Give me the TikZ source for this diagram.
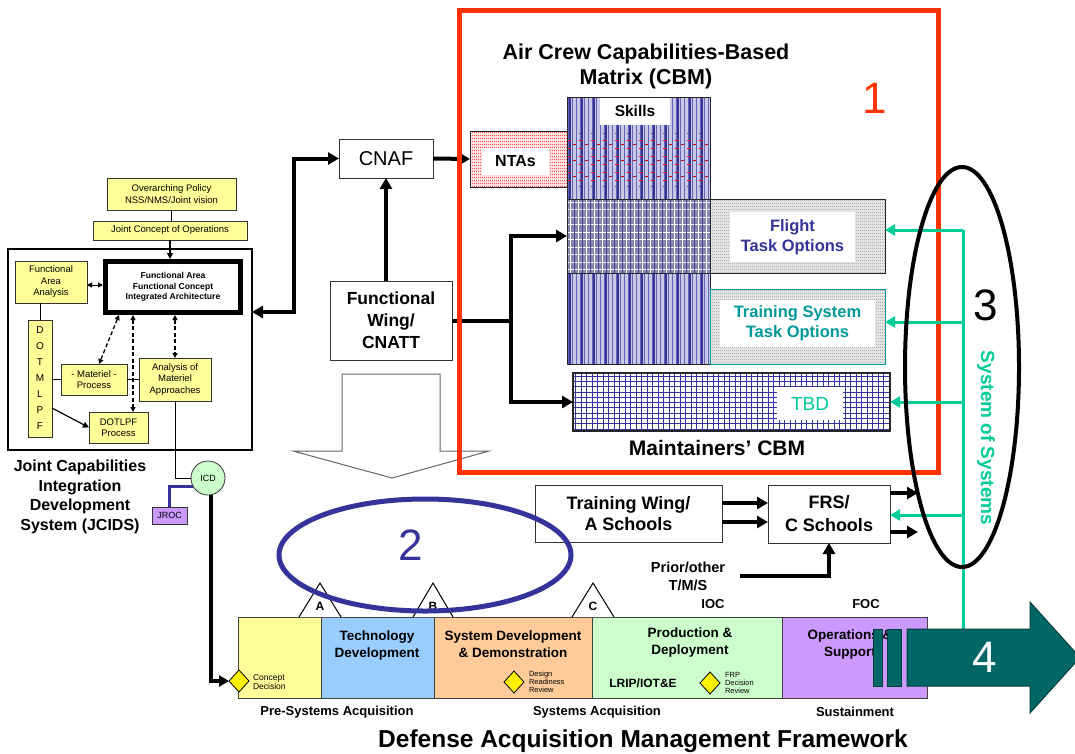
\documentclass[tikz,border=0pt]{standalone}
\usepackage{fontspec}
\setmainfont{Liberation Sans}
\usetikzlibrary{arrows.meta,shapes.geometric,calc}
\definecolor{ybox}{HTML}{FFFF99}
\definecolor{dnavy}{HTML}{333399}
\definecolor{redo}{HTML}{FF3300}
\definecolor{aqua}{HTML}{00CC99}
\definecolor{tealtxt}{HTML}{009999}
\definecolor{icdg}{HTML}{CCFFCC}
\definecolor{purp}{HTML}{CC99FF}
\definecolor{pblue}{HTML}{99CCFF}
\definecolor{porange}{HTML}{FFCC99}
\definecolor{darkteal}{HTML}{006666}
\definecolor{lav}{HTML}{C8C8E8}
\definecolor{weave}{HTML}{8686AE}
\newcommand{\fsz}[2]{\fontsize{#1}{#2}\selectfont}
\begin{document}
\begin{tikzpicture}[x=1pt,y=-1pt,
  every node/.style={inner sep=0pt,outer sep=0pt},
  ybx/.style={draw=black!80,line width=0.8pt,fill=ybox,align=center,font=\fsz{9.5}{11.5}},
  wbx/.style={draw=black!80,line width=0.9pt,fill=white,align=center},
  conn/.style={line width=4pt,-{Triangle[length=11pt,width=12pt]}},
  dconn/.style={line width=4pt,{Triangle[length=11pt,width=12pt]}-{Triangle[length=11pt,width=12pt]}},
  sconn/.style={line width=1.2pt,-{Triangle[length=6pt,width=6pt]}},
  dsh/.style={line width=1.3pt,dash pattern=on 4pt off 2.5pt,{Triangle[length=5pt,width=5pt]}-{Triangle[length=5pt,width=5pt]}},
  aconn/.style={aqua,line width=3pt,-{Triangle[length=10pt,width=11pt]}},
  phase/.style={draw=black!75,line width=1pt},
  ptxt/.style={font=\bfseries\fsz{13.5}{17},align=center},
  dmd/.style={diamond,draw=black,line width=0.8pt,fill=yellow,minimum width=20pt,minimum height=22pt},
  smalltxt/.style={font=\fsz{7.5}{8},align=left,anchor=west},
  big/.style={font=\fsz{44}{44}}
]
\useasboundingbox (0,0) rectangle (1075,753);

% ================= JCIDS =================
\node[ybx,minimum width=129,minimum height=32] (op) at (171.5,194) {Overarching Policy\\NSS/NMS/Joint vision};
\node[ybx,minimum width=154,minimum height=19] (jco) at (170,230.5) {Joint Concept of Operations};
\node[draw,line width=1.2pt,minimum width=244,minimum height=201] (jframe) at (130,349.5) {};
\node[draw,line width=5pt,outer sep=2.5pt,fill=white,minimum width=135,minimum height=51,align=center,font=\bfseries\fsz{8.6}{10.5}] (fa) at (173,287) {Functional Area\\Functional Concept\\Integrated Architecture};
\node[ybx,minimum width=72,minimum height=42] (faa) at (51,282) {Functional\\Area\\Analysis};
\node[ybx,minimum width=24,minimum height=117,font=\fsz{10}{16}] (dot) at (40,378.5) {D\\O\\T\\M\\L\\P\\F};
\node[ybx,minimum width=66,minimum height=31] (mat) at (94,379.5) {- Materiel -\\Process};
\node[ybx,minimum width=72,minimum height=43] (aoma) at (175,379.5) {Analysis of\\Materiel\\Approaches};
\node[ybx,minimum width=59,minimum height=31] (dotlpf) at (118.5,427.5) {DOTLPF\\Process};

\draw[line width=1.2pt] (op.south) -- (op.south |- jco.north);
\draw[sconn] (jco.south) -- (jco.south |- fa.north);
\draw[line width=1pt,{Triangle[length=5pt,width=5pt]}-{Triangle[length=5pt,width=5pt]}] ($(faa.east)+(0,3)$) -- ($(faa.east -| fa.west)+(0,3)$);
\draw[line width=0.8pt] (dot.north) -- (dot.north |- faa.south);
\draw[line width=1pt] (dot.east |- mat.west) -- (mat.west);
\draw[line width=1pt] (mat.east) -- (aoma.west);
\draw[sconn] ($(dot.east)+(0,29.5)$) -- (dotlpf.west);
\draw[dsh] ([xshift=-54pt]fa.south) -- ([xshift=5pt]mat.north);
\draw[dsh] ([xshift=-40pt]fa.south) -- ([xshift=14.5pt]dotlpf.north);
\draw[dsh] (fa.south -| aoma.north) -- (aoma.north);

\node[draw=black!80,line width=0.8pt,circle,fill=icdg,minimum size=34,font=\fsz{9}{9}] (icd) at (208,478) {ICD};
\node[draw=black!80,line width=0.8pt,fill=purp,minimum width=35,minimum height=17,font=\fsz{9}{9}] (jroc) at (169.5,515.5) {JROC};
\draw[line width=1pt] (aoma.south) |- (icd.west);
\draw[dnavy,line width=2.5pt] (jroc.north) |- (icd.210);

\node[font=\bfseries\fsz{16}{19.5},align=center] (jlbl) at (80,497) {Joint Capabilities\\Integration\\Development\\System (JCIDS)};

% ================= hollow down arrow =================
\draw[black!60,fill=white,line width=1pt] (342,374) -- (440,374) -- (440,451) -- (489,451) -- (392,478) -- (293,451) -- (342,451) -- cycle;

% ================= CNAF / FW =================
\node[wbx,minimum width=94,minimum height=39,font=\fsz{20}{20}] (cnaf) at (386,158.5) {CNAF};
\node[wbx,minimum width=122,minimum height=79,font=\bfseries\fsz{17.5}{22}] (fw) at (391,320.5) {Functional\\Wing/\\CNATT};
\draw[conn] (cnaf.south |- fw.north) -- (cnaf.south);
\coordinate (jr) at (0,312);
\draw[dconn] (jframe.east |- jr) -- (294,312) |- (cnaf.west);

% ================= Matrix =================
% skills column
\fill[lav] (567,97) rectangle (710,364);
\foreach \i in {0,...,35} \draw[dnavy!75,line width=0.7pt] (568.5+4*\i,97) -- (568.5+4*\i,364);
\foreach \i in {0,...,11} \draw[dnavy,line width=1.6pt] (570+12*\i,97) -- (570+12*\i,364);
\node[fill=white,minimum width=70,minimum height=28,font=\bfseries\fsz{15.5}{16}] (skills) at (635,111) {Skills};
% NTAs row dashes
\foreach \yy in {140,148,...,180} \draw[red,line width=1pt,dash pattern=on 4pt off 8pt] (567,\yy) -- (710,\yy);
\foreach \yy in {144,160,176} \draw[red!80!black,line width=1pt,dash pattern=on 3pt off 9pt,dash phase=6pt] (567,\yy) -- (710,\yy);
\draw[black!70,line width=1pt,dash pattern=on 3pt off 9pt] (567,133) -- (710,133);
\draw[black!70,line width=1pt,dash pattern=on 3pt off 9pt] (567,186) -- (710,186);
% flight row left (woven)
\fill[weave] (567,199) rectangle (710,273);
\foreach \i in {0,...,17} \draw[white,line width=1pt] (570+8*\i,199) -- (570+8*\i,273);
\foreach \j in {0,...,9} \draw[white,line width=0.9pt] (567,202+7.5*\j) -- (710,202+7.5*\j);
\foreach \i in {0,...,17} \draw[dnavy!70!gray,line width=0.8pt] (574+8*\i,199) -- (574+8*\i,273);
% flight row right
\fill[gray!22] (710,199) rectangle (885,273);
\foreach \j in {0,...,24} \draw[gray!60,line width=0.6pt,dash pattern=on 1pt off 1pt] (710,200.5+3*\j) -- (885,200.5+3*\j);
\node[fill=white,minimum width=125,minimum height=50,font=\bfseries\fsz{16.5}{20},text=dnavy,align=center] (flbl) at (792.5,237) {Flight\\Task Options};
% training row right
\fill[gray!22] (710,289) rectangle (885,364);
\foreach \j in {0,...,24} \draw[gray!60,line width=0.6pt,dash pattern=on 1pt off 1pt] (710,290.5+3*\j) -- (885,290.5+3*\j);
\node[fill=white,minimum width=155,minimum height=47,font=\bfseries\fsz{16.5}{20},text=tealtxt,align=center] (tlbl) at (797.5,323.5) {Training System\\Task Options};
% borders
\draw[black!85,line width=0.9pt] (567,97) rectangle (710,364);
\draw[black!85,line width=0.9pt] (567,199) -- (710,199) (567,273) -- (710,273);
\node[draw=black!85,line width=0.9pt,minimum width=318,minimum height=74] (flight) at (726,236) {};
\node[draw=tealtxt,line width=1pt,minimum width=175,minimum height=75] (train) at (797.5,326.5) {};
% NTAs
\fill[red!12] (470,131) rectangle (567,187);
\foreach \j in {0,...,18} \draw[red!70,line width=0.6pt,dash pattern=on 1pt off 1pt] (470,132+3*\j) -- (567,132+3*\j);
\node[fill=white,minimum width=67,minimum height=27,font=\bfseries\fsz{16}{16}] (ntalbl) at (515.5,161.5) {NTAs};
\node[draw=black!85,line width=0.9pt,minimum width=97,minimum height=56] (ntas) at (518.5,159) {};
% TBD
\fill[white] (573,373) rectangle (890,431);
\foreach \i in {0,...,56} \draw[dnavy,line width=0.7pt] (575.5+5.5*\i,373) -- (575.5+5.5*\i,431);
\foreach \j in {0,...,10} \draw[dnavy,line width=0.7pt] (573,376+5.3*\j) -- (890,376+5.3*\j);
\node[fill=white,minimum width=66,minimum height=33,font=\fsz{19}{19},text=aqua] (tbdlbl) at (810,403.5) {TBD};
\node[draw=black!85,line width=1.2pt,minimum width=317,minimum height=58] (tbd) at (731.5,402) {};

\node[font=\bfseries\fsz{21.5}{25},align=center] (title) at (646,66) {Air Crew Capabilities-Based\\Matrix (CBM)};
\node[font=\bfseries\fsz{21}{21}] (maint) at (717,448) {Maintainers' CBM};

% connectors into matrix
\draw[conn] (cnaf.east) -- (ntas.west);
\coordinate (br) at (511,321);
\draw[line width=4pt] (fw.east |- br) -- (br);
\draw[conn] (br) |- (flight.west);
\draw[conn] (br) |- (tbd.west);

% red box
\draw[redo,line width=5pt] (459.5,10.5) rectangle (938.5,472.5);
\node[big,text=redo] (one) at (875,98) {1};

% ================= Training wing / FRS =================
\node[wbx,minimum width=187,minimum height=57,font=\bfseries\fsz{18}{21}] (tw) at (628.5,513.5) {Training Wing/\\A Schools};
\node[wbx,minimum width=122,minimum height=58,font=\bfseries\fsz{18}{23}] (frs) at (829,514) {FRS/\\C Schools};
\coordinate (r1) at (0,503);
\coordinate (r2) at (0,522);
\draw[conn] (tw.east |- r1) -- (frs.west |- r1);
\draw[conn] (tw.east |- r2) -- (frs.west |- r2);
\coordinate (o1) at (918,493);
\coordinate (o2) at (918,532);
\draw[conn] (frs.east |- o1) -- (o1);
\draw[conn] (frs.east |- o2) -- (o2);
\node[font=\bfseries\fsz{14.5}{18},align=center] (prior) at (688,576) {Prior/other\\T/M/S};
\coordinate (pe) at (740,576);
\draw[conn] (pe) -| (frs.south);

% ================= System of systems =================
\coordinate (s1) at (963,230);
\coordinate (s2) at (963,322);
\coordinate (s3) at (963,402);
\coordinate (s4) at (963,515);
\coordinate (sb) at (963,630);
\draw[aqua,line width=3pt] (s1) -- (sb);
\draw[aconn] (s1) -- (s1 -| flight.east);
\draw[aconn] (s2) -- (s2 -| train.east);
\draw[aconn] (s3) -- (s3 -| tbd.east);
\draw[aconn] (s4) -- (s4 -| frs.east);
\node[rotate=-90,text=aqua,font=\bfseries\fsz{19}{19}] (sos) at (986,438) {System of Systems};
\node[big] (three) at (986,305) {3};
\draw[line width=4pt] (962,367) ellipse [x radius=57pt,y radius=200pt];

% ================= Acquisition framework =================
\node[phase,fill=ybox,minimum width=83,minimum height=81] (p1) at (279.5,657.5) {};
\node[phase,fill=pblue,minimum width=113,minimum height=81] (p2) at (377.5,657.5) {};
\node[phase,fill=porange,minimum width=158,minimum height=81] (p3) at (513,657.5) {};
\node[phase,fill=icdg,minimum width=190,minimum height=81] (p4) at (687,657.5) {};
\node[phase,fill=purp,minimum width=145,minimum height=81] (p5) at (854.5,657.5) {};

\draw[fill=white,line width=1pt] (299,617) -- (320,583) -- (341,617);
\draw[fill=white,line width=1pt] (413,617) -- (433,583) -- (453,617);
\draw[fill=white,line width=1pt] (572,617) -- (593,583) -- (614,617);
\node[font=\bfseries\fsz{12}{12}] (ta) at (320,606) {A};
\node[font=\bfseries\fsz{12}{12}] (tb) at (433,606) {B};
\node[font=\bfseries\fsz{12}{12}] (tc) at (593,606) {C};

\node[ptxt] (t2) at (377,645.5) {Technology\\Development};
\node[ptxt] (t3) at (513,644) {System Development\\\& Demonstration};
\node[ptxt] (t4) at (690,642) {Production \&\\Deployment};
\node[ptxt] (t5) at (850,644.5) {Operations \&\\Support};
\node[font=\bfseries\fsz{13}{13}] (ioc) at (713,604) {IOC};
\node[font=\bfseries\fsz{13}{13}] (foc) at (866,604) {FOC};

\node[dmd] (cd) at (239,681) {};
\node[smalltxt,font=\fsz{8.5}{8.5}] (cdt) at (253,682) {Concept\\Decision};
\node[dmd] (drr) at (514,682) {};
\node[smalltxt] (drrt) at (529,682) {Design\\Readiness\\Review};
\node[font=\bfseries\fsz{12}{12}] (lrip) at (643,683) {LRIP/IOT\&E};
\node[dmd] (frp) at (710,683) {};
\node[smalltxt] (frpt) at (725,683) {FRP\\Decision\\Review};

\node[font=\bfseries\fsz{13}{13}] (pre) at (337,712) {Pre-Systems Acquisition};
\node[font=\bfseries\fsz{13}{13}] (sysa) at (597,712) {Systems Acquisition};
\node[font=\bfseries\fsz{13}{13}] (sust) at (855,712) {Sustainment};

\draw[line width=4.5pt,-{Triangle[length=10pt,width=11pt]}] ([xshift=3pt]icd.south) |- (cd.west);

% blue ellipse 2
\draw[dnavy,line width=5pt] (425,555) ellipse [x radius=146pt,y radius=56pt];
\node[big,text=dnavy] (two) at (411,545) {2};

% green arrow 4
\draw[darkteal!60!black,fill=darkteal,line width=1pt] (907,629) -- (1030,629) -- (1030,602) -- (1080,657.5) -- (1030,713) -- (1030,686) -- (907,686) -- cycle;
\draw[darkteal!60!black,fill=darkteal,line width=1pt] (873,629) rectangle (882,686);
\draw[darkteal!60!black,fill=darkteal,line width=1pt] (887,629) rectangle (901,686);
\node[big,text=white] (four) at (985,657) {4};

\node[font=\bfseries\fsz{24.5}{25}] (dfw) at (643,741) {Defense Acquisition Management Framework};
\end{tikzpicture}
\end{document}
